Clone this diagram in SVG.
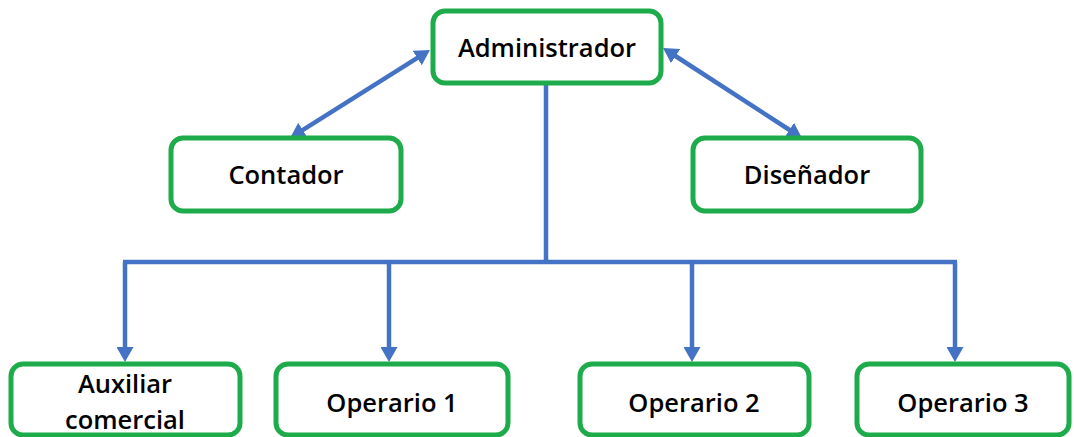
<svg xmlns="http://www.w3.org/2000/svg" width="1074" height="437" viewBox="0 0 1074 437">
<style>
.box{fill:#fff;stroke:#1eab4b;stroke-width:5}
.lbl{font-family:"Open Sans","Liberation Sans",sans-serif;font-weight:600;font-size:25.5px;fill:#000;text-anchor:middle}
.con{stroke:#4472c4;stroke-width:4.5;fill:none}
</style>
<defs>
<marker id="ah" viewBox="0 0 15 17" markerWidth="15" markerHeight="17" refX="3" refY="8.5" orient="auto-start-reverse" markerUnits="userSpaceOnUse">
<path d="M0,0 L15,8.5 L0,17 z" fill="#4472c4"/>
</marker>
</defs>
<rect width="1074" height="437" fill="#fff"/>
<g id="connectors">
<line class="con" x1="300.2" y1="131.6" x2="419.8" y2="56.4" marker-start="url(#ah)" marker-end="url(#ah)"/>
<line class="con" x1="673.1" y1="54.5" x2="791.9" y2="131.5" marker-start="url(#ah)" marker-end="url(#ah)"/>
<line class="con" x1="546" y1="85" x2="546" y2="262"/>
<line class="con" x1="123" y1="262" x2="957" y2="262"/>
<line class="con" x1="125" y1="262" x2="125" y2="350" marker-end="url(#ah)"/>
<line class="con" x1="389" y1="262" x2="389" y2="350" marker-end="url(#ah)"/>
<line class="con" x1="692" y1="262" x2="692" y2="350" marker-end="url(#ah)"/>
<line class="con" x1="955" y1="262" x2="955" y2="350" marker-end="url(#ah)"/>
</g>
<g id="administrador"><rect class="box" x="433" y="11" width="228" height="72" rx="12"/><text class="lbl" x="547" y="57">Administrador</text></g>
<g id="contador"><rect class="box" x="171" y="138" width="230" height="73" rx="12"/><text class="lbl" x="286" y="184">Contador</text></g>
<g id="disenador"><rect class="box" x="693" y="138" width="228" height="73" rx="12"/><text class="lbl" x="807" y="184">Diseñador</text></g>
<g id="auxiliar"><rect class="box" x="11" y="364" width="229" height="71" rx="12"/><text class="lbl" x="125" y="393">Auxiliar</text><text class="lbl" x="125" y="429">comercial</text></g>
<g id="operario1"><rect class="box" x="276" y="364" width="232" height="71" rx="12"/><text class="lbl" x="392" y="412">Operario 1</text></g>
<g id="operario2"><rect class="box" x="580" y="364" width="229" height="71" rx="12"/><text class="lbl" x="694" y="412">Operario 2</text></g>
<g id="operario3"><rect class="box" x="857" y="364" width="212" height="71" rx="12"/><text class="lbl" x="963" y="412">Operario 3</text></g>
</svg>
